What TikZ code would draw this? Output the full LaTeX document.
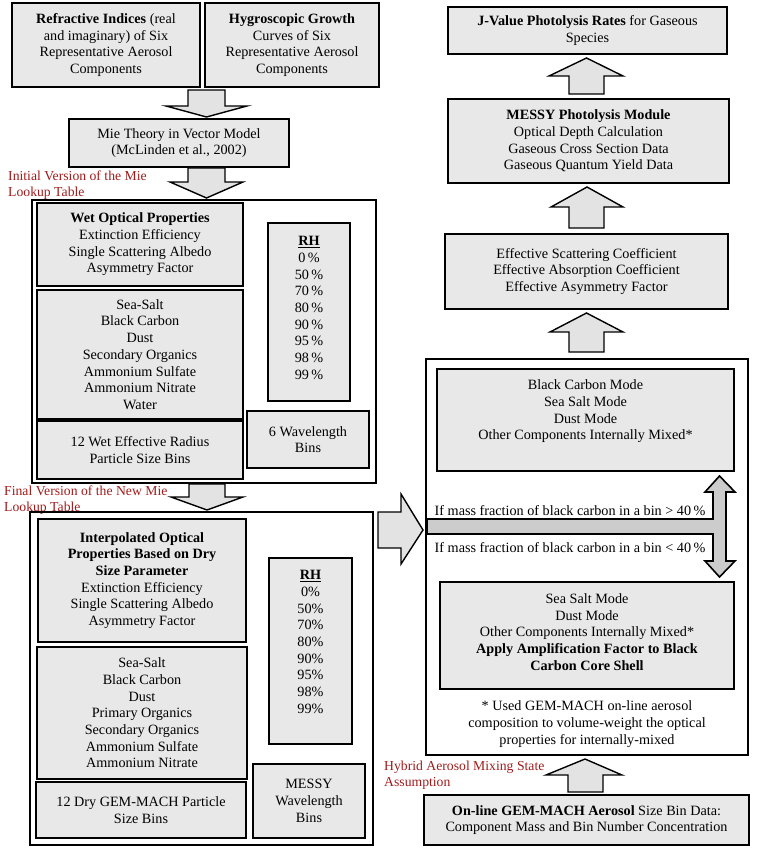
\documentclass[tikz,border=0pt]{standalone}
\usepackage{fontspec}
\setmainfont{Liberation Serif}
\definecolor{boxgray}{gray}{0.91}
\definecolor{arrgray}{gray}{0.89}
\definecolor{tgray}{gray}{0.80}
\definecolor{labred}{RGB}{160,28,28}
\begin{document}
\begin{tikzpicture}[x=1pt,y=-1pt,
  box/.style={draw=black,fill=boxgray,line width=1.6pt,inner sep=0pt,align=center,
    font=\fontsize{14.2pt}{16.7pt}\selectfont},
  frame/.style={draw=black,line width=1.6pt,inner sep=0pt},
  txt/.style={inner sep=0pt,align=center,font=\fontsize{14.2pt}{16.7pt}\selectfont},
  lab/.style={inner sep=0pt,align=left,text=labred,anchor=north west,
    font=\fontsize{13.7pt}{15.5pt}\selectfont},
  barr/.style={draw=black,fill=arrgray,line width=1.4pt,line join=miter},
  tarr/.style={draw=black,fill=tgray,line width=1.6pt,line join=miter}]
\useasboundingbox (0,0) rectangle (764,850);

% ---------------- left column ----------------
\node[box,minimum width=188pt,minimum height=84pt] (refr) at (106,45)
  {\textbf{Refractive Indices} (real\\and imaginary) of Six\\Representative Aerosol\\Components};
\node[box,minimum width=174pt,minimum height=84pt] (hygro) at (292,45)
  {\textbf{Hygroscopic Growth}\\Curves of Six\\Representative Aerosol\\Components};
\draw[barr] (188,90) -- (225,90) -- (225,106) -- (247,106) -- (206.5,117) -- (166,106) -- (188,106) -- cycle;
\node[box,minimum width=220pt,minimum height=48pt] (mie) at (179,143)
  {Mie Theory in Vector Model\\(McLinden et al., 2002)};
\node[lab] (initlab) at (8,171) {Initial Version of the Mie\\Lookup Table};
\draw[barr] (188,168) -- (225,168) -- (225,182) -- (243,182) -- (206.5,198) -- (170,182) -- (188,182) -- cycle;

\node[frame,minimum width=344pt,minimum height=283pt] (outerA) at (204,341.5) {};
\node[box,minimum width=206pt,minimum height=83pt] (wet) at (140,244.5)
  {\textbf{Wet Optical Properties}\\Extinction Efficiency\\Single Scattering Albedo\\Asymmetry Factor};
\node[box,minimum width=206pt,minimum height=129pt] (compA) at (140,354.5)
  {Sea-Salt\\Black Carbon\\Dust\\Secondary Organics\\Ammonium Sulfate\\Ammonium Nitrate\\Water};
\node[box,minimum width=206pt,minimum height=58pt] (wetbins) at (140,450)
  {12 Wet Effective Radius\\Particle Size Bins};
\node[box,minimum width=82pt,minimum height=178pt] (rhA) at (309,312) {};
\node[txt] (rhAtxt) at (309,308)
  {\underline{\textbf{RH}}\\0\,\%\\50\,\%\\70\,\%\\80\,\%\\90\,\%\\95\,\%\\98\,\%\\99\,\%};
\node[box,minimum width=122pt,minimum height=57pt] (wlA) at (308,439.5)
  {6 Wavelength\\Bins};

\node[lab] (finallab) at (4,486) {Final Version of the New Mie\\Lookup Table};
\draw[barr] (189,484) -- (225,484) -- (225,497) -- (243,497) -- (207,510) -- (171,497) -- (189,497) -- cycle;

\node[frame,minimum width=343pt,minimum height=333pt] (outerB) at (201.5,678.5) {};
\node[box,minimum width=208pt,minimum height=123pt] (interp) at (142,580.5)
  {\textbf{Interpolated Optical}\\\textbf{Properties Based on Dry}\\\textbf{Size Parameter}\\Extinction Efficiency\\Single Scattering Albedo\\Asymmetry Factor};
\node[box,minimum width=210pt,minimum height=132pt] (compB) at (142,713)
  {Sea-Salt\\Black Carbon\\Dust\\Primary Organics\\Secondary Organics\\Ammonium Sulfate\\Ammonium Nitrate};
\node[box,minimum width=210pt,minimum height=56pt] (drybins) at (141,810)
  {12 Dry GEM-MACH Particle\\Size Bins};
\node[box,minimum width=83pt,minimum height=186pt] (rhB) at (310.5,651) {};
\node[txt] (rhBtxt) at (310.5,642)
  {\underline{\textbf{RH}}\\0\%\\50\%\\70\%\\80\%\\90\%\\95\%\\98\%\\99\%};
\node[box,minimum width=112pt,minimum height=74pt] (wlB) at (309,801)
  {MESSY\\Wavelength\\Bins};

% big right arrow
\draw[barr] (378,512) -- (401,512) -- (401,494) -- (423,530) -- (401,564) -- (401,548) -- (378,548) -- cycle;

% ---------------- right column ----------------
\node[box,minimum width=279pt,minimum height=47pt] (jval) at (587.5,30.5)
  {\textbf{J-Value Photolysis Rates} for Gaseous\\Species};
\draw[barr] (569,94) -- (569,76) -- (549,76) -- (586.5,58) -- (623,76) -- (604,76) -- (604,94) -- cycle;
\node[box,minimum width=281pt,minimum height=84pt] (messy) at (588.5,141)
  {\textbf{MESSY Photolysis Module}\\Optical Depth Calculation\\Gaseous Cross Section Data\\Gaseous Quantum Yield Data};
\draw[barr] (569,228) -- (569,207) -- (551,207) -- (587,187) -- (623,207) -- (604,207) -- (604,228) -- cycle;
\node[box,minimum width=283pt,minimum height=75pt] (eff) at (586.5,271.5)
  {Effective Scattering Coefficient\\Effective Absorption Coefficient\\Effective Asymmetry Factor};
\draw[barr] (569,352) -- (569,332) -- (550,332) -- (586.5,313) -- (623,332) -- (604,332) -- (604,352) -- cycle;

\node[frame,minimum width=322pt,minimum height=396pt] (outerR) at (587,557) {};
\node[box,minimum width=297pt,minimum height=102pt] (bcmode) at (585.5,420) {};
\node[txt] (bctxt) at (585.5,411.5)
  {Black Carbon Mode\\Sea Salt Mode\\Dust Mode\\Other Components Internally Mixed*};

\draw[tarr] (427,519) -- (713,519) -- (713,492) -- (705,492) -- (719.5,476) -- (735,492) -- (726,492)
  -- (726,561) -- (735,561) -- (719.5,577) -- (705,561) -- (713,561) -- (713,534) -- (427,534) -- cycle;
\node[txt] (gt) at (570,511) {If mass fraction of black carbon in a bin > 40\,\%};
\node[txt] (lt) at (570,547.5) {If mass fraction of black carbon in a bin < 40\,\%};

\node[box,minimum width=294pt,minimum height=107pt] (ssmode) at (587,635.5) {};
\node[txt] (sstxt) at (587,632)
  {Sea Salt Mode\\Dust Mode\\Other Components Internally Mixed*\\\textbf{Apply Amplification Factor to Black}\\\textbf{Carbon Core Shell}};
\node[txt] (note) at (587,724)
  {* Used GEM-MACH on-line aerosol\\composition to volume-weight the optical\\properties for internally-mixed};

\node[lab] (hyblab) at (384,761) {Hybrid Aerosol Mixing State\\Assumption};
\draw[barr] (568,792) -- (568,775) -- (546,775) -- (585,759) -- (622,775) -- (603,775) -- (603,792) -- cycle;
\node[box,minimum width=325pt,minimum height=50pt] (online) at (586.5,820)
  {\textbf{On-line GEM-MACH Aerosol} Size Bin Data:\\Component Mass and Bin Number Concentration};
\end{tikzpicture}
\end{document}
